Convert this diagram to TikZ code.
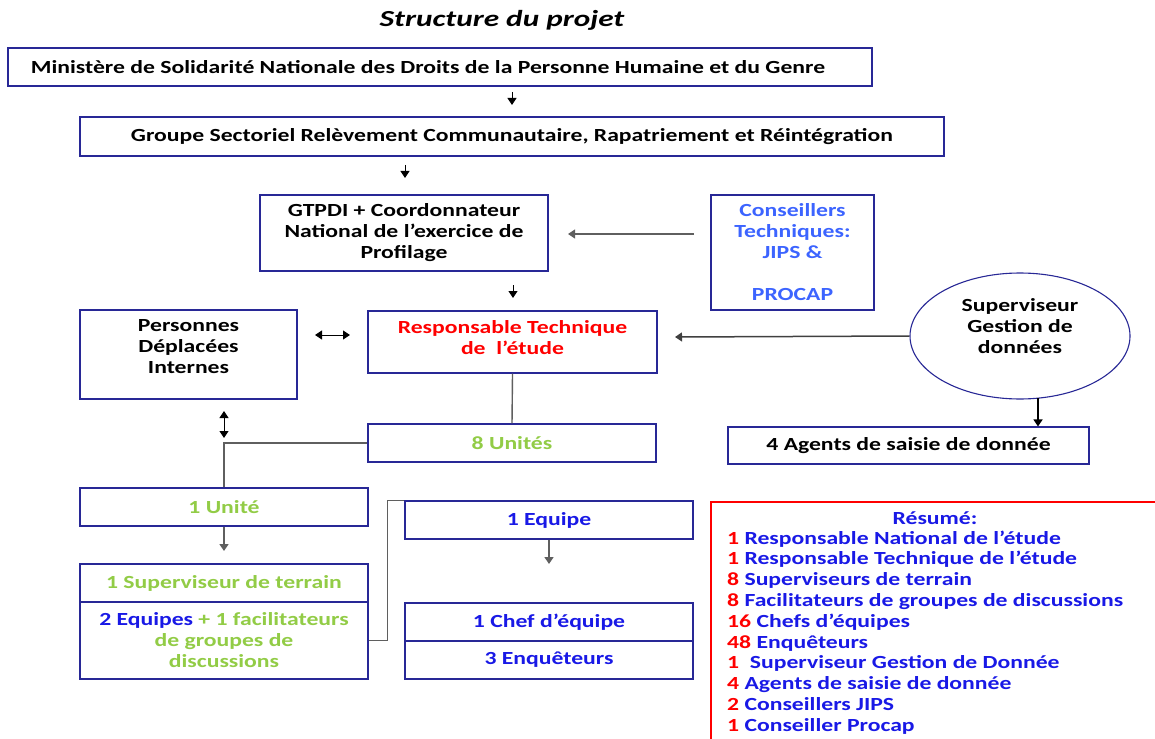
\documentclass[tikz,border=0pt]{standalone}
\usepackage{fontspec}
\setmainfont{Carlito}[FakeStretch=1.28]
\newfontfamily\titlefont{Carlito}[FakeStretch=1.36]
\usetikzlibrary{arrows.meta,shapes.geometric}
\definecolor{navy}{RGB}{40,40,150}
\definecolor{lgreen}{RGB}{146,204,70}
\definecolor{dblue}{RGB}{25,25,230}
\definecolor{lblue}{RGB}{60,100,255}
\definecolor{cred}{RGB}{255,0,0}
\definecolor{lgray}{RGB}{95,95,95}
\begin{document}
\begin{tikzpicture}[x=1pt,y=-1pt,
  box/.style={draw=navy, line width=1.1pt, rectangle, inner sep=0pt, align=center,
    font=\bfseries\fontsize{18.5}{21}\selectfont},
  txt/.style={inner sep=0pt, align=center, font=\bfseries\fontsize{18.5}{21}\selectfont},
  arr/.style={-{Triangle[length=7pt,width=9pt]}, line width=1pt},
  darr/.style={{Triangle[length=7pt,width=9pt]}-{Triangle[length=7pt,width=9pt]}, line width=1pt},
  conn/.style={draw=lgray, line width=1.4pt}]
\useasboundingbox (0,0) rectangle (1155,738);
\clip (0,0) rectangle (1155,738);
\fill[white] (0,0) rectangle (1155,738);

% title
\node[txt, font=\titlefont\bfseries\itshape\fontsize{23}{27}\selectfont] (title) at (502,20) {Structure du projet};

% boxes
\node[box, minimum width=864pt, minimum height=38pt] (b1) at (440,67) {};
\node[txt] (b1t) at (428,67)
  {Ministère de Solidarité Nationale des Droits de la Personne Humaine et du Genre};
\node[box, minimum width=864pt, minimum height=39pt] (b2) at (512,136.5)
  {Groupe Sectoriel Relèvement Communautaire, Rapatriement et Réintégration};
\node[box, minimum width=288pt, minimum height=76pt] (gt) at (404,233)
  {GTPDI + Coordonnateur\\National de l’exercice de\\Profilage};
\node[box, text=lblue, minimum width=163pt, minimum height=115pt] (cons) at (792.5,252.5)
  {Conseillers\\Techniques:\\JIPS \&\\\mbox{}\\PROCAP};
\node[box, minimum width=217pt, minimum height=89pt] (pdi) at (188.5,354.5) {};
\node[txt] (pdit) at (188.5,347) {Personnes\\Déplacées\\Internes};
\node[box, minimum width=289pt, minimum height=62pt] (resp) at (512.5,342) {};
\node[txt, text=cred] (respt) at (512.5,337.5) {Responsable Technique\\de~ l’étude};
\node[draw=navy, line width=1.1pt, ellipse, inner sep=0pt, minimum width=220pt, minimum height=126pt] (ell) at (1020,336) {};
\node[txt] (ellt) at (1020,326) {Superviseur\\Gestion de\\données};
\node[box, text=lgreen, minimum width=288pt, minimum height=38pt] (u8) at (512,443) {8 Unités};
\node[box, minimum width=361pt, minimum height=37pt] (ag) at (908.5,445.5) {4 Agents de saisie de donnée};
\node[box, text=lgreen, minimum width=288pt, minimum height=38pt] (u1) at (224,507) {1 Unité};
\node[box, text=lgreen, minimum width=288pt, minimum height=38pt] (st) at (224,583) {1 Superviseur de terrain};
\node[box, text=lgreen, minimum width=288pt, minimum height=77pt] (sb) at (224,640.5)
  {\textcolor{dblue}{2 Equipes} + 1 facilitateurs\\de groupes de\\discussions};
\node[box, text=dblue, minimum width=288pt, minimum height=38pt] (eq) at (549,520) {1 Equipe};
\node[box, text=dblue, minimum width=288pt, minimum height=38pt] (chef) at (549,622) {1 Chef d’équipe};
\node[box, text=dblue, minimum width=288pt, minimum height=38pt] (enq) at (549,660) {3 Enquêteurs};

% resume
\node[draw=cred, line width=1.8pt, rectangle, inner sep=0pt, anchor=north west,
  minimum width=480pt, minimum height=260pt] (res) at (710,501) {};
\node[txt, text=dblue] (rest) at (935,518) {Résumé:};
\foreach \n/\t [count=\i from 0] in {1/Responsable National de l’étude,
  1/Responsable Technique de l’étude,
  8/Superviseurs de terrain,
  8/Facilitateurs de groupes de discussions,
  16/Chefs d’équipes,
  48/Enquêteurs,
  1/\ Superviseur Gestion de Donnée,
  4/Agents de saisie de donnée,
  2/Conseillers JIPS,
  1/Conseiller Procap}
  \node[txt, anchor=base west] (r\i) at (727,544+20.8*\i) {\textcolor{cred}{\n} \textcolor{dblue}{\t}};

% coordinates for free arrow ends
\coordinate (a1s) at (512,92);  \coordinate (a1e) at (512,105);
\coordinate (a2s) at (405,165); \coordinate (a2e) at (405,178);
\coordinate (a3s) at (513,285); \coordinate (a3e) at (513,298);
\coordinate (cs) at (694,234);  \coordinate (ce) at (568,234);
\coordinate (hs) at (315,335);  \coordinate (he) at (350,335);
\coordinate (ee) at (675,337);
\coordinate (vs) at (224,411);  \coordinate (ve) at (224,438);
\coordinate (u1e) at (224,551);
\coordinate (eqe) at (549,564);
\coordinate (es) at (1038,398);

% arrows
\draw[arr] (a1s) -- (a1e);
\draw[arr] (a2s) -- (a2e);
\draw[arr] (a3s) -- (a3e);
\draw[arr, draw=lgray, line width=1.2pt] (cs) -- (ce);
\draw[darr] (hs) -- (he);
\draw[arr, draw=black!75, line width=1.5pt] (ell.west) -- (ee);
\draw[darr] (vs) -- (ve);
\draw[conn] (resp.south) -- (u8.north);
\draw[conn] (u8.west) -| (u1.north);
\draw[arr, draw=lgray, line width=1.4pt] (u1.south) -- (u1e);
\draw[conn] (sb.east) -- ++(19,0) |- (eq.north west);
\draw[arr, draw=lgray, line width=1.4pt] (eq.south) -- (eqe);
\draw[arr, line width=1.5pt] (es) -- (ag.north -| es);
\end{tikzpicture}
\end{document}
